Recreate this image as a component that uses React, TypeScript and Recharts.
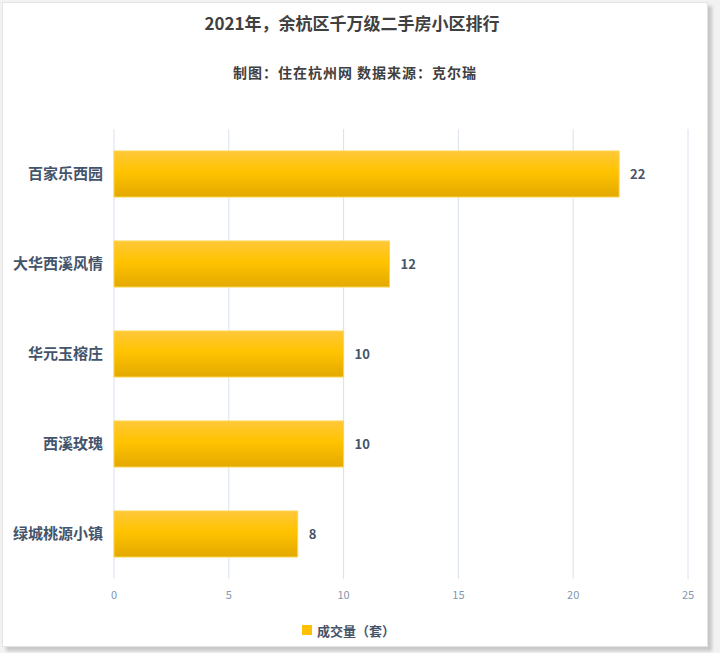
import { BarChart, Bar, XAxis, YAxis, CartesianGrid, LabelList } from 'recharts'

const COMMUNITIES = ['百家乐西园', '大华西溪风情', '华元玉榕庄', '西溪玫瑰', '绿城桃源小镇']
const DEALS = [22, 12, 10, 10, 8]
const X_TICKS = [0, 5, 10, 15, 20, 25]

const TITLE = '2021年，余杭区千万级二手房小区排行'
const SUBTITLE = '制图：住在杭州网 数据来源：克尔瑞'
const SERIES_NAME = '成交量（套）'

const FONT = '"Noto Sans CJK SC", "Noto Sans", sans-serif'
const INK = '#44546a'

const data = COMMUNITIES.map((name, i) => ({ name, value: DEALS[i] }))

export default function App() {
  return (
    <div
      style={{
        position: 'absolute',
        left: 0,
        top: 0,
        width: 720,
        height: 653,
        background: '#f2f2f2',
        fontFamily: FONT,
      }}
    >
      <div
        style={{
          position: 'absolute',
          left: 2,
          top: 2,
          width: 704,
          height: 643,
          background: '#fff',
          border: '1px solid #e3e3e3',
          boxShadow: '4px 4px 3px #c8c8c8',
        }}
      />
      <div
        style={{
          position: 'absolute',
          left: 0,
          top: 10,
          width: 704,
          textAlign: 'center',
          fontSize: 17,
          fontWeight: 700,
          color: '#404040',
        }}
      >
        {TITLE}
      </div>
      <div
        style={{
          position: 'absolute',
          left: 0,
          top: 62,
          width: 710,
          textAlign: 'center',
          fontSize: 14,
          letterSpacing: 1,
          fontWeight: 700,
          color: '#404040',
        }}
      >
        {SUBTITLE}
      </div>
      <div style={{ position: 'absolute', left: 0, top: 0 }}>
        <BarChart
          width={720}
          height={653}
          data={data}
          layout="vertical"
          margin={{ top: 129, right: 32, bottom: 44, left: 0 }}
        >
          <defs>
            <linearGradient id="barFill" x1="0" y1="0" x2="0" y2="1">
              <stop offset="0%" stopColor="#ffc83a" />
              <stop offset="45%" stopColor="#ffc300" />
              <stop offset="100%" stopColor="#e3a900" />
            </linearGradient>
          </defs>
          <CartesianGrid horizontal={false} stroke="#d9e1ee" strokeWidth={1} />
          <XAxis
            type="number"
            domain={[0, 25]}
            ticks={X_TICKS}
            axisLine={false}
            tickLine={false}
            tickSize={0}
            tickMargin={12}
            height={30}
            tick={{ fontSize: 11, fill: '#8497b0', fontFamily: FONT }}
          />
          <YAxis
            type="category"
            dataKey="name"
            width={114}
            axisLine={false}
            tickLine={false}
            tickSize={0}
            tickMargin={11}
            tick={{ fontSize: 15, fill: INK, fontWeight: 700, fontFamily: FONT }}
          />
          <Bar
            dataKey="value"
            name={SERIES_NAME}
            fill="url(#barFill)"
            stroke="#ffd54a"
            strokeWidth={1}
            barSize={46}
            isAnimationActive={false}
          >
            <LabelList
              dataKey="value"
              position="right"
              offset={11}
              style={{ fontSize: 13, fontWeight: 700, fill: INK, fontFamily: FONT }}
            />
          </Bar>
        </BarChart>
      </div>
      <div
        style={{
          position: 'absolute',
          left: 302,
          top: 620,
          height: 20,
          display: 'flex',
          alignItems: 'center',
          gap: 5,
          fontSize: 13,
          fontWeight: 700,
          color: INK,
        }}
      >
        <span style={{ width: 10, height: 10, background: '#ffc000', display: 'inline-block' }} />
        <span>{SERIES_NAME}</span>
      </div>
    </div>
  )
}
